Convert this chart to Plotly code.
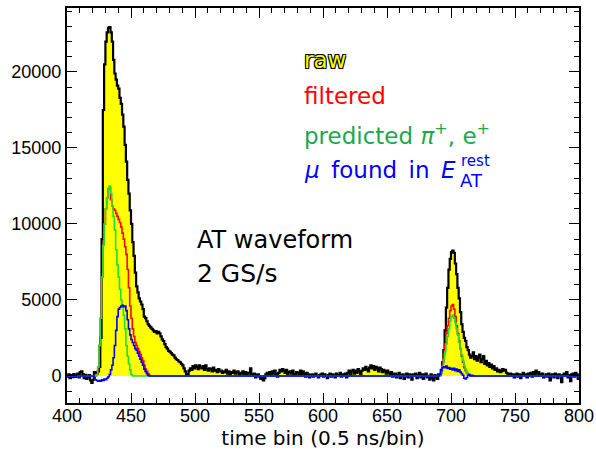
import numpy as np
import plotly.graph_objects as go

# ---------------- data (time bins 400..799, one value per bin) ----------------
bin_start = 400
n_bins = 400

raw_counts = [
    -50, 100, -150, 50, -80, 120, -60, 30, 150, -100,
    250, 300, 120, -150, 80, -200, -100, 50, -300, -450,
    -250, 250, 200, 150, 300, 600, 2500, 9000, 17500, 20500,
    22000, 22600, 22900, 22950, 22600, 22000, 20800, 19900, 19500, 19100,
    18900, 18300, 17900, 17200, 16400, 15200, 14100, 12900, 12000, 10900,
    10000, 8800, 7900, 6800, 5900, 5500, 5100, 4900, 4700, 4400,
    3900, 3800, 3600, 3400, 3300, 3200, 3100, 3000, 2900, 2950,
    2800, 2900, 2800, 2600, 2400, 2300, 2100, 1900, 1800, 1650,
    1600, 1500, 1400, 1350, 1200, 1100, 1050, 950, 900, 800,
    700, 500, 300, 50, 100, 350, 500, 400, 650, 500,
    700, 600, 450, 700, 550, 500, 650, 400, 700, 450,
    350, 500, 450, 300, 550, 350, 400, 250, 450, 300,
    350, 200, 300, 250, 400, 150, 300, 100, 250, 200,
    350, 150, 250, 300, 100, 200, 150, 300, 100, 250,
    50, 200, 150, 500, 100, 0, 150, -100, 50, 100,
    -50, -200, -100, -300, -150, 100, 200, 50, 250, 100,
    300, 150, 350, 100, -50, 200, 400, 300, 450, 350,
    200, 400, 100, 250, 300, 150, 350, 100, 50, 250,
    200, 100, 350, 50, 300, 150, -50, 200, 100, -100,
    50, 100, -50, 50, 150, 0, -100, 50, 100, 150,
    -50, 100, 0, -150, 50, 150, -50, 100, 50, -100,
    150, 50, 0, 200, -50, 100, 50, 150, -100, 200,
    350, 100, 300, 400, 150, 350, 200, 450, 300, 100,
    350, 500, 400, 600, 450, 300, 550, 700, 500, 650,
    400, 600, 500, 300, 550, 450, 250, 400, 300, 150,
    350, 200, 100, 250, -50, 100, 150, -100, 50, 200,
    -150, 50, 100, -200, 0, 150, -100, 100, 50, -250,
    100, 0, 150, -150, 50, 200, -100, 100, -200, 50,
    150, -100, 0, -250, 100, -150, -300, 50, -100, -200,
    100, 50, 400, 900, 1700, 3000, 4500, 5800, 7000, 7700,
    8150, 8250, 8100, 7400, 6700, 5800, 5100, 4200, 3400, 2900,
    2500, 2300, 1900, 1700, 1400, 1200, 1300, 1550, 1100, 1300,
    1000, 1200, 1400, 900, 1100, 1300, 800, 1000, 700, 850,
    600, 750, 500, 650, 400, 500, 300, 400, 250, 300,
    450, 350, 400, 200, 150, 100, 150, 0, 100, -100,
    50, 150, -50, 100, -150, 50, 200, 0, 100, -100,
    150, 50, 200, -50, 250, 100, 350, 150, 250, 100,
    50, 150, -100, 0, 100, -50, 150, -300, 50, 100,
    -100, 150, 50, -150, 100, 0, -400, 50, 150, 100,
    250, -100, 50, -350, 100, 150, -50, 200, 100, -200,
]

# filtered waveform (zero outside the listed segments)
filt_main_start = 423
filt_main = [100, 600, 2000, 3800, 6500, 8600, 10000, 11000, 11700, 12300,
             12400, 11600, 11200, 11000, 10900, 10700, 10500, 10300, 10100, 9800,
             9400, 9000, 8500, 8000, 7000, 5800, 4600, 3800, 3100, 2600,
             2200, 2000, 1800, 1600, 1400, 1200, 1000, 700, 450, 300,
             150, 50]
filt_second_start = 691
filt_second = [50, 200, 700, 1400, 2100, 2800, 3300, 3800, 4300, 4600,
               4700, 4400, 3900, 3300, 2800, 2300, 1800, 1300, 900, 550,
               350, 200, 100, 50]

# predicted pi+, e+ waveform
pred_main_start = 423
pred_main = [100, 600, 2000, 3800, 6500, 8600, 10000, 11000, 11700, 12300,
             12500, 12000, 11200, 10500, 9600, 8300, 7300, 6500, 5700, 5000,
             4500, 4000, 3100, 2000, 1300, 800, 400, 100]
pred_second_start = 691
pred_second = [50, 200, 600, 1100, 1600, 2100, 2600, 3100, 3600, 3900,
               4000, 3800, 3500, 3100, 2700, 2200, 1800, 1400, 1000, 700,
               450, 250, 150, 50]

# muon found in E_AT^rest
mu_main_start = 421
mu_main = [-100, -250, -300, -350, -300, -350, -250, -300, -200, -250,
           -150, -50, 100, 400, 700, 1200, 2000, 3000, 3900, 4400,
           4500, 4600, 4650, 4550, 4600, 4300, 3700, 3100, 2700, 2400,
           2200, 2000, 1800, 1700, 1500, 1300, 1100, 900, 700, 450,
           300, 150, 50]
mu_second_start = 691
mu_second = [100, 350, 550, 600, 550, 650, 500, 550, 450, 500,
             400, 500, 350, 450, 300, 400, 250, 150, 50, -150,
             -200, -100, 50, 100, 0, 50]

x_tick_vals = [400, 450, 500, 550, 600, 650, 700, 750, 800]
y_tick_vals = [0, 5000, 10000, 15000, 20000]


def build(segments):
    arr = np.zeros(n_bins)
    for start, vals in segments:
        i0 = start - bin_start
        arr[i0:i0 + len(vals)] = vals
    return arr


raw = np.array(raw_counts, dtype=float)
filt = build([(filt_main_start, filt_main), (filt_second_start, filt_second)])
pred = build([(pred_main_start, pred_main), (pred_second_start, pred_second)])
mu = build([(mu_main_start, mu_main), (mu_second_start, mu_second)])

edges = np.arange(bin_start, bin_start + n_bins + 1)


def stepy(a):
    return np.append(a, a[-1])


fig = go.Figure()
fig.add_trace(go.Scatter(x=edges, y=stepy(raw), mode="lines", line_shape="hv",
                         line=dict(color="black", width=2.2), fill="tozeroy",
                         fillcolor="#ffff00", showlegend=False))
fig.add_trace(go.Scatter(x=edges, y=stepy(filt), mode="lines", line_shape="hv",
                         line=dict(color="#ff0000", width=1.6), showlegend=False))
fig.add_trace(go.Scatter(x=edges, y=stepy(pred), mode="lines", line_shape="hv",
                         line=dict(color="#22dd33", width=1.6), showlegend=False))
fig.add_trace(go.Scatter(x=edges, y=stepy(mu), mode="lines", line_shape="hv",
                         line=dict(color="#0000ff", width=1.6), showlegend=False))

# plot frame in pixels
L, R, T, B = 67, 579, 8, 403
W, H = 596, 452


def px(xp):
    return (xp - L) / (R - L)


def py(yp):
    return (B - yp) / (B - T)


ann_font = "DejaVu Sans"
anns = []
outline = "1px 1px 0 #000, -1px -1px 0 #000, 1px -1px 0 #000, -1px 1px 0 #000"
anns.append(dict(text="raw", x=px(302), y=py(60), font=dict(color="#ffff00", size=23, family=ann_font, shadow=outline)))
anns.append(dict(text="filtered", x=px(302), y=py(96), font=dict(color="#ff0000", size=23, family=ann_font)))
anns.append(dict(text="predicted <i>π</i><sup>+</sup>, e<sup>+</sup>", x=px(302), y=py(134),
                 font=dict(color="#1aa84f", size=23, family=ann_font)))
anns.append(dict(text="<i>μ</i>\u2002found\u2002in\u2002<i>E</i>", x=px(302), y=py(170),
                 font=dict(color="#0000ff", size=23, family=ann_font)))
anns.append(dict(text="rest", x=px(459), y=py(161), font=dict(color="#0000ff", size=15, family=ann_font)))
anns.append(dict(text="AT", x=px(458), y=py(180), font=dict(color="#0000ff", size=18, family=ann_font)))
anns.append(dict(text="AT waveform", x=px(195), y=py(240), font=dict(color="black", size=24, family=ann_font)))
anns.append(dict(text="2 GS/s", x=px(195), y=py(273), font=dict(color="black", size=25, family=ann_font)))
for a in anns:
    a.update(xref="paper", yref="paper", xanchor="left", yanchor="middle", showarrow=False)

axis_common = dict(showline=True, linewidth=2, linecolor="black", mirror="ticks",
                   ticks="inside", ticklen=10, tickwidth=1, tickcolor="black",
                   showgrid=False, zeroline=False, automargin=False,
                   tickfont=dict(family="Liberation Sans", size=18, color="black"))

fig.update_layout(
    width=W, height=H,
    margin=dict(l=L, r=W - R, t=T, b=H - B),
    paper_bgcolor="white", plot_bgcolor="white",
    annotations=anns,
    xaxis=dict(range=[400, 800], tickvals=x_tick_vals, ticktext=[str(v) for v in x_tick_vals],
               minor=dict(dtick=10, tick0=400, ticklen=5, ticks="inside", tickcolor="black"),
               ticklabelstandoff=-5,
               title=dict(text="time bin (0.5 ns/bin)", font=dict(family=ann_font, size=20, color="black"),
                          standoff=2),
               **axis_common),
    yaxis=dict(range=[-1780, 24210], tickvals=y_tick_vals, ticktext=[str(v) for v in y_tick_vals],
               minor=dict(dtick=1000, tick0=0, ticklen=5, ticks="inside", tickcolor="black"),
               **axis_common),
)

fig.write_html("out.html")
